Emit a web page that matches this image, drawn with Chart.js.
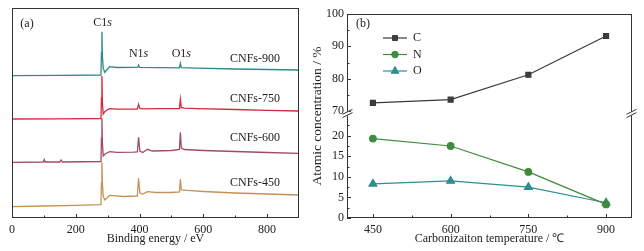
<!DOCTYPE html>
<html>
<head>
<meta charset="utf-8">
<script src="https://cdn.jsdelivr.net/npm/chart.js@4.4.1/dist/chart.umd.min.js"></script>
<style>
  html, body { margin: 0; padding: 0; background: #fff; }
  #wrap { position: relative; width: 644px; height: 251px; }
  canvas { position: absolute; top: 0; }
</style>
</head>
<body>
<div id="wrap">
  <canvas id="xpsCanvas" width="310" height="251" style="left:0"></canvas>
  <canvas id="atomCanvas" width="334" height="251" style="left:310px"></canvas>
</div>
<script>
// ---- panel (a): XPS survey spectra (arbitrary intensity) ----
const spectrumNames = ["CNFs-900", "CNFs-750", "CNFs-600", "CNFs-450"];

const be900 = [0, 150, 279, 280.5, 282, 283.5, 286, 291, 298, 306, 330, 380, 394, 397, 400, 460, 525, 528, 531, 580, 700, 800, 900];
const int900 = [142.3, 142.6, 143, 165, 186.3, 162, 150, 145.5, 148.5, 151.3, 150.5, 150.7, 150.6, 153, 150.6, 150.4, 150.1, 154.7, 150.3, 149.8, 149, 148.5, 148];

const be750 = [0, 150, 279, 280.5, 282, 283.5, 286, 291, 298, 306, 330, 380, 393, 397, 401, 410, 460, 525, 528, 531, 540, 580, 700, 800, 900];
const int750 = [99, 99.2, 99.5, 120, 142, 115, 104, 106.3, 108, 109.3, 108.8, 108.9, 109, 113.7, 109.6, 109.2, 109.3, 109.5, 118.7, 110.5, 109.8, 109.4, 108.5, 107.7, 107];

const be600 = [0, 98, 101, 104, 150, 154, 158, 279, 280.5, 282, 283.5, 286, 291, 298, 306, 330, 380, 393, 397, 401, 410, 425, 440, 500, 525, 528, 531, 540, 600, 700, 800, 900];
const int600 = [55.7, 56, 58.5, 56, 56, 58, 56, 56.5, 80, 99.7, 75, 62, 63.7, 65, 66.3, 65.7, 65.8, 66, 80.7, 67, 65.5, 68.7, 67, 67.5, 68.5, 85.7, 70, 68.5, 67.5, 66.5, 65.5, 64.7];

const be450 = [0, 100, 200, 279, 280.5, 282, 283.5, 286, 291, 298, 306, 350, 393, 397, 401, 410, 425, 450, 500, 525, 528, 531, 560, 600, 700, 800, 900];
const int450 = [11.3, 12, 12.7, 13.3, 35, 55.7, 35, 22, 18, 20, 22.7, 21.5, 22, 39.7, 25, 24, 26.3, 25.5, 25.5, 26, 38.7, 28, 27.3, 26.5, 25, 24, 23];

const energyTicks = [0, 200, 400, 600, 800];
const energyMinor = [100, 300, 500, 700];

// ---- panel (b): atomic concentration ----
const temps = [450, 600, 750, 900];
const cConc = [72.5, 73.5, 81.2, 93.2];
const nConc = [19.3, 17.5, 11.2, 3.3];
const oConc = [8.3, 9.0, 7.5, 3.7];

const tempTicks = [450, 600, 750, 900];
const tempMinor = [525, 675, 825];
const highTicks = [70, 80, 90, 100];
const highMinor = [75, 85, 95];
const lowTicks = [0, 5, 10, 15, 20];
const lowMinor = [2.5, 7.5, 12.5, 17.5, 22.5];

const serif = '"Liberation Serif", "Times New Roman", serif';
const ink = '#222';
const frameColor = '#333';

function pts(xs, ys) { return xs.map((x, i) => ({ x: x, y: ys[i] })); }
function fixTicks(values) { return scale => { scale.ticks = values.map(v => ({ value: v })); }; }

// box frame + inward tick marks
const frameTicks = {
  id: 'frameTicks',
  afterDatasetsDraw(chart, args, opts) {
    const ctx = chart.ctx, a = chart.chartArea;
    ctx.save();
    ctx.strokeStyle = frameColor;
    ctx.lineWidth = 1;
    ctx.strokeRect(Math.round(a.left) + 0.5, Math.round(a.top) + 0.5,
                   Math.round(a.right - a.left) - 1, Math.round(a.bottom - a.top) - 1);
    ctx.beginPath();
    (opts.marks || []).forEach(m => {
      const s = chart.scales[m.id];
      const put = (v, len) => {
        if (s.isHorizontal()) {
          const x = Math.round(s.getPixelForValue(v)) + 0.5;
          ctx.moveTo(x, a.bottom); ctx.lineTo(x, a.bottom - len);
        } else {
          const y = Math.round(s.getPixelForValue(v)) + 0.5;
          ctx.moveTo(a.left, y); ctx.lineTo(a.left + len, y);
        }
      };
      m.major.forEach(v => put(v, 4));
      m.minor.forEach(v => put(v, 2.5));
    });
    ctx.stroke();
    ctx.restore();
  }
};

function drawSubscriptLabel(ctx, main, ital, cx, cy) {
  const f1 = '12px ' + serif, f2 = 'italic 12px ' + serif;
  ctx.font = f1; const w1 = ctx.measureText(main).width;
  ctx.font = f2; const w2 = ctx.measureText(ital).width;
  const x0 = cx - (w1 + w2) / 2;
  ctx.textAlign = 'left'; ctx.textBaseline = 'middle';
  ctx.font = f1; ctx.fillText(main, x0, cy);
  ctx.font = f2; ctx.fillText(ital, x0 + w1, cy);
}

const xpsText = {
  id: 'xpsText',
  afterDraw(chart) {
    const ctx = chart.ctx, a = chart.chartArea;
    const sx = chart.scales.x, sy = chart.scales.y;
    ctx.save();
    ctx.fillStyle = ink;
    ctx.font = '12px ' + serif;
    ctx.textAlign = 'center'; ctx.textBaseline = 'middle';
    const nameHeights = [159, 119, 80, 35];
    spectrumNames.forEach((n, i) => {
      ctx.fillText(n, sx.getPixelForValue(762), sy.getPixelForValue(nameHeights[i]));
    });
    drawSubscriptLabel(ctx, 'C1', 's', sx.getPixelForValue(284), sy.getPixelForValue(195));
    drawSubscriptLabel(ctx, 'N1', 's', sx.getPixelForValue(397), sy.getPixelForValue(164));
    drawSubscriptLabel(ctx, 'O1', 's', sx.getPixelForValue(531), sy.getPixelForValue(164));
    ctx.font = '12px ' + serif;
    ctx.textAlign = 'center';
    ctx.fillText('(a)', a.left + 15, a.top + 16);
    ctx.restore();
  }
};

const spectrumColors = ['#2e8b88', '#d42a3c', '#a24a6a', '#c39355'];
const spectra = [[be900, int900], [be750, int750], [be600, int600], [be450, int450]];

new Chart(document.getElementById('xpsCanvas'), {
  type: 'line',
  data: {
    datasets: spectra.map((s, i) => ({
      label: spectrumNames[i],
      data: pts(s[0], s[1]),
      borderColor: spectrumColors[i],
      borderWidth: 1.3,
      pointRadius: 0,
      tension: 0
    }))
  },
  options: {
    responsive: false,
    animation: false,
    layout: { padding: { left: 12, right: 11, top: 8, bottom: 0 } },
    plugins: {
      legend: { display: false },
      tooltip: { enabled: false },
      frameTicks: { marks: [{ id: 'x', major: energyTicks, minor: energyMinor }] }
    },
    scales: {
      x: {
        type: 'linear', min: 0, max: 900,
        afterBuildTicks: fixTicks(energyTicks),
        afterFit: s => { s.height = 33; },
        grid: { display: false, drawTicks: false },
        border: { display: false },
        ticks: { font: { family: serif, size: 12 }, color: ink, padding: 5, maxRotation: 0, autoSkip: false },
        title: { display: true, text: 'Binding energy / eV', font: { family: serif, size: 12 }, color: ink, padding: { top: 0, bottom: 5 } }
      },
      y: { display: false, min: 0, max: 210 }
    }
  },
  plugins: [frameTicks, xpsText]
});

// ---- panel (b) ----
const atomText = {
  id: 'atomText',
  afterDraw(chart) {
    const ctx = chart.ctx, a = chart.chartArea;
    ctx.save();
    // axis break marks on left and right axes
    const yb = chart.scales.yC.bottom + 2.5;
    [a.left + 0.5, a.right - 0.5].forEach(x => {
      ctx.fillStyle = '#fff';
      ctx.fillRect(x - 2, yb - 2, 4, 4);
      ctx.strokeStyle = frameColor; ctx.lineWidth = 1;
      ctx.beginPath();
      ctx.moveTo(x - 5, yb + 0.8); ctx.lineTo(x + 5, yb - 4.2);
      ctx.moveTo(x - 5, yb + 4.1); ctx.lineTo(x + 5, yb - 0.9);
      ctx.stroke();
    });
    // y title
    ctx.fillStyle = ink;
    ctx.font = '13.5px ' + serif;
    ctx.textAlign = 'center'; ctx.textBaseline = 'middle';
    ctx.translate(7, (a.top + a.bottom) / 2);
    ctx.rotate(-Math.PI / 2);
    ctx.fillText('Atomic concentration / %', 0, 0);
    ctx.setTransform(1, 0, 0, 1, 0, 0);
    // panel tag
    ctx.font = '12px ' + serif;
    ctx.fillText('(b)', a.left + 16, a.top + 10);
    // legend
    chart.data.datasets.forEach((ds, i) => {
      const y = a.top + 24 + i * 16.5;
      ctx.strokeStyle = ds.borderColor; ctx.lineWidth = 1.2;
      ctx.beginPath(); ctx.moveTo(a.left + 36, y); ctx.lineTo(a.left + 60, y); ctx.stroke();
      ctx.fillStyle = ds.backgroundColor; ctx.strokeStyle = ds.borderColor; ctx.lineWidth = 1;
      Chart.helpers.drawPoint(ctx, { pointStyle: ds.pointStyle, radius: ds.pointRadius, rotation: 0, borderWidth: 1 }, a.left + 48, y);
      ctx.fillStyle = ink;
      ctx.font = '12px ' + serif;
      ctx.textAlign = 'left';
      ctx.fillText(ds.label, a.left + 66, y);
    });
    ctx.restore();
  }
};

const tickFont = { family: serif, size: 12 };

new Chart(document.getElementById('atomCanvas'), {
  type: 'line',
  data: {
    datasets: [
      { label: 'C', data: pts(temps, cConc), yAxisID: 'yC', borderColor: '#3a3a3a', backgroundColor: '#3f3f3f',
        pointStyle: 'rect', pointRadius: 3.5, borderWidth: 1.2, tension: 0 },
      { label: 'N', data: pts(temps, nConc), yAxisID: 'yNO', borderColor: '#3e8c3e', backgroundColor: '#3e8c3e',
        pointStyle: 'circle', pointRadius: 3.3, borderWidth: 1.2, tension: 0 },
      { label: 'O', data: pts(temps, oConc), yAxisID: 'yNO', borderColor: '#2f8f8f', backgroundColor: '#2f8f8f',
        pointStyle: 'triangle', pointRadius: 4.5, borderWidth: 1.2, tension: 0 }
    ]
  },
  options: {
    responsive: false,
    animation: false,
    layout: { padding: { left: 0, right: 12, top: 14, bottom: 0 } },
    plugins: {
      legend: { display: false },
      tooltip: { enabled: false },
      frameTicks: { marks: [
        { id: 'x', major: tempTicks, minor: tempMinor },
        { id: 'yC', major: highTicks, minor: highMinor },
        { id: 'yNO', major: lowTicks, minor: lowMinor }
      ] }
    },
    scales: {
      x: {
        type: 'linear', min: 400, max: 950,
        afterBuildTicks: fixTicks(tempTicks),
        afterFit: s => { s.height = 33; },
        grid: { display: false, drawTicks: false },
        border: { display: false },
        ticks: { font: tickFont, color: ink, padding: 5, maxRotation: 0, autoSkip: false },
        title: { display: true, text: 'Carbonizaiton temperature / ℃', font: tickFont, color: ink, padding: { top: 0, bottom: 5 } }
      },
      yNO: {
        type: 'linear', position: 'left', stack: 'conc', stackWeight: 107,
        min: 0, max: 26,
        afterBuildTicks: fixTicks(lowTicks),
        afterFit: s => { s.width = 37; },
        grid: { display: false, drawTicks: false },
        border: { display: false },
        ticks: { font: tickFont, color: ink, padding: 3, autoSkip: false }
      },
      yC: {
        type: 'linear', position: 'left', stack: 'conc', stackWeight: 97,
        min: 70, max: 100,
        afterBuildTicks: fixTicks(highTicks),
        afterFit: s => { s.width = 37; },
        grid: { display: false, drawTicks: false },
        border: { display: false },
        ticks: { font: tickFont, color: ink, padding: 3, autoSkip: false }
      }
    }
  },
  plugins: [frameTicks, atomText]
});
</script>
</body>
</html>
